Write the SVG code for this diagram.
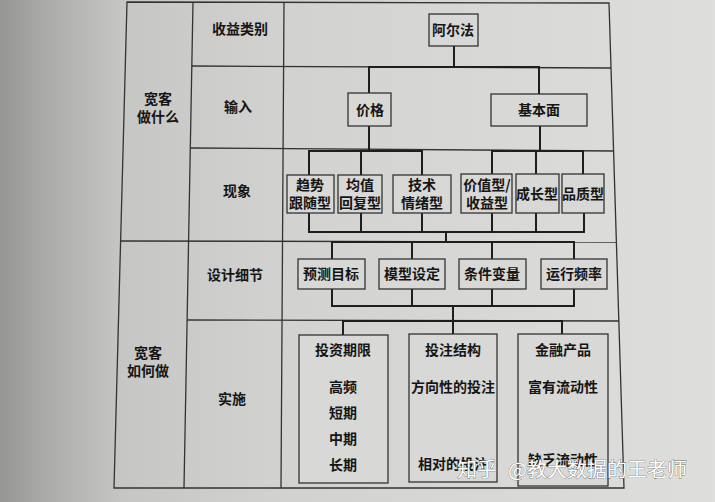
<svg xmlns="http://www.w3.org/2000/svg" width="715" height="502" viewBox="0 0 715 502">
  <defs>
    <linearGradient id="paper" x1="0" y1="0" x2="1" y2="0">
      <stop offset="0" stop-color="#969694"/>
      <stop offset="0.08" stop-color="#afafad"/>
      <stop offset="0.17" stop-color="#c6c6c4"/>
      <stop offset="0.4" stop-color="#d2d2d0"/>
      <stop offset="1" stop-color="#dededc"/>
    </linearGradient>
    <style>
      .grid { stroke: #333; stroke-width: 1.3; fill: none; }
      .box { fill: #d8d8d6; stroke: #333; stroke-width: 1.3; }
      .conn { stroke: #1e1e1e; stroke-width: 2; fill: none; stroke-linecap: square; }
      text { font-family: "Noto Sans CJK SC", "Noto Sans", sans-serif; font-size: 14px; font-weight: 600; fill: #151515; text-anchor: middle; }
      .wm { font-size: 20px; font-weight: 400; fill: #ffffff; stroke: #555; stroke-width: 0.6; paint-order: stroke; text-anchor: start; }
    </style>
  </defs>

  <rect x="0" y="0" width="715" height="502" fill="url(#paper)"/>

  <g id="table">
    <path class="grid" d="M127,2 L609,3 L624,488 L114,488 Z"/>
    <line class="grid" x1="193" y1="2" x2="184" y2="488"/>
    <line class="grid" x1="284" y1="2" x2="281" y2="488"/>
    <line class="grid" x1="192" y1="66" x2="611" y2="68"/>
    <line class="grid" x1="190" y1="148" x2="613" y2="151"/>
    <line class="grid" x1="121" y1="241" x2="616" y2="242"/>
    <line class="grid" x1="187" y1="320" x2="619" y2="321"/>
  </g>

  <g id="row-labels">
    <text x="240" y="34">收益类别</text>
    <text x="158" y="104">宽客</text>
    <text x="158" y="122">做什么</text>
    <text x="238" y="112">输入</text>
    <text x="237" y="196">现象</text>
    <text x="235" y="280">设计细节</text>
    <text x="148" y="358">宽客</text>
    <text x="148" y="376">如何做</text>
    <text x="232" y="404">实施</text>
  </g>

  <g id="connectors">
    <path class="conn" d="M454,46 V67 M369,67 H539 M369,67 V93 M539,67 V94"/>
    <path class="conn" d="M369,126 V151 M540,126 V151"/>
    <path class="conn" d="M309,151 H422 M309,151 V175 M361,151 V175 M422,151 V175"/>
    <path class="conn" d="M492,151 H583 M492,151 V174 M536,151 V174 M583,151 V174"/>
    <path class="conn" d="M309,213 V232 M361,213 V232 M422,213 V232 M492,213 V232 M536,213 V232 M584,213 V232 M309,232 H584 M446,232 V242"/>
    <path class="conn" d="M332,242 H574 M332,242 V259 M412,242 V259 M492,242 V259 M574,242 V259"/>
    <path class="conn" d="M332,289 V306 M412,289 V306 M492,289 V306 M574,289 V306 M332,306 H574 M453,306 V321"/>
    <path class="conn" d="M343,321 H562 M343,321 V335 M453,321 V334 M562,321 V334"/>
  </g>

  <g id="alpha"><rect class="box" x="429" y="14" width="49" height="32"/><text x="453" y="35">阿尔法</text></g>
  <g id="price"><rect class="box" x="348" y="93" width="43" height="33"/><text x="370" y="115">价格</text></g>
  <g id="fundamental"><rect class="box" x="491" y="94" width="96" height="32"/><text x="539" y="115">基本面</text></g>

  <g id="trend"><rect class="box" x="287" y="175" width="47" height="38"/><text x="310" y="190">趋势</text><text x="310" y="208">跟随型</text></g>
  <g id="meanrev"><rect class="box" x="338" y="175" width="44" height="38"/><text x="360" y="190">均值</text><text x="360" y="208">回复型</text></g>
  <g id="tech"><rect class="box" x="393" y="175" width="58" height="38"/><text x="422" y="190">技术</text><text x="422" y="208">情绪型</text></g>
  <g id="value"><rect class="box" x="461" y="174" width="51" height="39"/><text x="487" y="190">价值型/</text><text x="487" y="208">收益型</text></g>
  <g id="growth"><rect class="box" x="516" y="174" width="43" height="39"/><text x="537" y="199">成长型</text></g>
  <g id="quality"><rect class="box" x="562" y="174" width="42" height="39"/><text x="583" y="199">品质型</text></g>

  <g id="target"><rect class="box" x="298" y="259" width="67" height="30"/><text x="331" y="279">预测目标</text></g>
  <g id="model"><rect class="box" x="379" y="259" width="66" height="30"/><text x="412" y="279">模型设定</text></g>
  <g id="condition"><rect class="box" x="459" y="259" width="67" height="30"/><text x="492" y="279">条件变量</text></g>
  <g id="frequency"><rect class="box" x="541" y="259" width="66" height="30"/><text x="574" y="279">运行频率</text></g>

  <g id="horizon">
    <rect class="box" x="299" y="335" width="89" height="148"/>
    <text x="343" y="355">投资期限</text>
    <text x="343" y="392">高频</text>
    <text x="343" y="418">短期</text>
    <text x="343" y="444">中期</text>
    <text x="343" y="470">长期</text>
  </g>
  <g id="structure">
    <rect class="box" x="409" y="334" width="88" height="148"/>
    <text x="453" y="355">投注结构</text>
    <text x="453" y="392">方向性的投注</text>
    <text x="453" y="469">相对的投注</text>
  </g>
  <g id="product">
    <rect class="box" x="518" y="334" width="90" height="152"/>
    <text x="563" y="355">金融产品</text>
    <text x="563" y="392">富有流动性</text>
    <text x="563" y="465">缺乏流动性</text>
  </g>

  <g id="watermark">
    <text class="wm" x="457" y="477">知乎</text>
    <text class="wm" x="508" y="477">@教大数据的王老师</text>
  </g>
</svg>
